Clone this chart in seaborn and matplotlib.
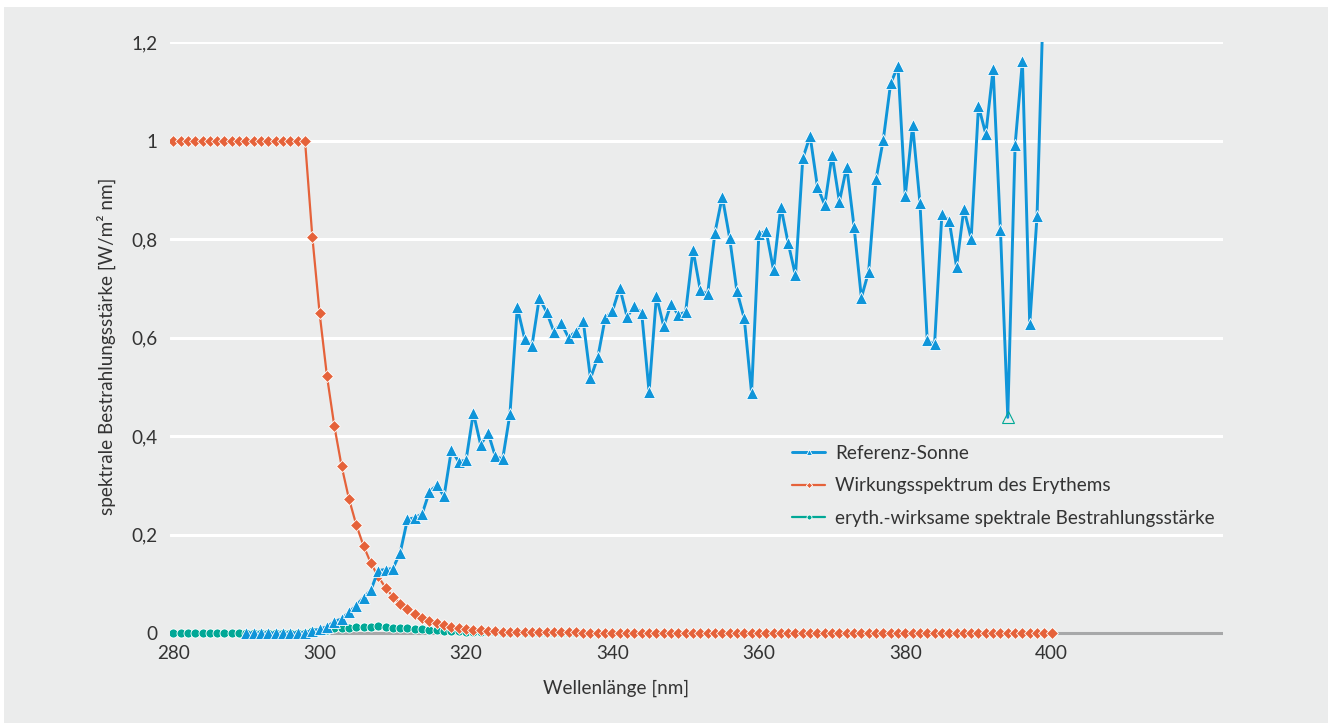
import matplotlib
matplotlib.use("Agg")
import matplotlib.pyplot as plt
from matplotlib.patches import Rectangle
import seaborn as sns
import pandas as pd

# ---------------- data ----------------
wl_sun = list(range(290, 401))
sun = [
    0, 0, 0, 0, 0, 0, 0, 0.0005, 0.001, 0.005,                      # 290-299
    0.008, 0.013, 0.023, 0.029, 0.042, 0.056, 0.072, 0.087, 0.127, 0.129,   # 300-309
    0.131, 0.163, 0.231, 0.234, 0.242, 0.287, 0.300, 0.278, 0.372, 0.348,   # 310-319
    0.351, 0.447, 0.382, 0.407, 0.359, 0.353, 0.445, 0.661, 0.598, 0.583,   # 320-329
    0.680, 0.652, 0.612, 0.629, 0.600, 0.612, 0.634, 0.517, 0.560, 0.639,   # 330-339
    0.654, 0.701, 0.642, 0.664, 0.649, 0.490, 0.684, 0.623, 0.668, 0.646,   # 340-349
    0.652, 0.778, 0.696, 0.688, 0.813, 0.886, 0.803, 0.694, 0.639, 0.488,   # 350-359
    0.810, 0.816, 0.737, 0.866, 0.792, 0.726, 0.964, 1.009, 0.906, 0.869,   # 360-369
    0.971, 0.876, 0.947, 0.825, 0.681, 0.734, 0.921, 1.002, 1.116, 1.151,   # 370-379
    0.888, 1.031, 0.874, 0.594, 0.586, 0.851, 0.837, 0.744, 0.861, 0.801,   # 380-389
    1.070, 1.013, 1.145, 0.818, 0.438, 0.991, 1.161, 0.627, 0.847, 1.36,    # 390-399
    1.55,                                                                   # 400
]

wl_full = list(range(280, 401))
erythem = [
    1, 1, 1, 1, 1, 1, 1, 1, 1, 1,                                           # 280-289
    1, 1, 1, 1, 1, 1, 1, 1, 1, 0.805,                                       # 290-299
    0.649, 0.522, 0.421, 0.339, 0.273, 0.220, 0.177, 0.142, 0.115, 0.092,   # 300-309
    0.074, 0.060, 0.048, 0.039, 0.031, 0.025, 0.020, 0.016, 0.013, 0.0105,  # 310-319
    0.0085, 0.0068, 0.0055, 0.0045, 0.0036, 0.0029, 0.0023, 0.0019, 0.0015, 0.0015,  # 320-329
    0.0014, 0.0014, 0.0013, 0.0013, 0.0012, 0.0012, 0.0011, 0.0011, 0.0011, 0.0010,  # 330-339
    0.0010, 0.0010, 0.0009, 0.0009, 0.0009, 0.0008, 0.0008, 0.0008, 0.0008, 0.0007,  # 340-349
    0.0007, 0.0007, 0.0007, 0.0006, 0.0006, 0.0006, 0.0006, 0.0006, 0.0005, 0.0005,  # 350-359
    0.0005, 0.0005, 0.0005, 0.0005, 0.0004, 0.0004, 0.0004, 0.0004, 0.0004, 0.0004,  # 360-369
    0.0003, 0.0003, 0.0003, 0.0003, 0.0003, 0.0003, 0.0003, 0.0003, 0.0003, 0.0003,  # 370-379
    0.0003, 0.0003, 0.0003, 0.0003, 0.0003, 0.0002, 0.0002, 0.0002, 0.0002, 0.0002,  # 380-389
    0.0002, 0.0002, 0.0002, 0.0002, 0.0002, 0.0002, 0.0002, 0.0001, 0.0001, 0.0001,  # 390-399
    0.0001,                                                                           # 400
]
wirksam = [
    0, 0, 0, 0, 0, 0, 0, 0, 0, 0,                                           # 280-289
    0, 0, 0, 0, 0, 0, 0, 0.0005, 0.001, 0.004,                              # 290-299
    0.005, 0.007, 0.010, 0.010, 0.011, 0.012, 0.013, 0.012, 0.015, 0.012,   # 300-309
    0.0097, 0.0097, 0.011, 0.009, 0.0075, 0.0072, 0.006, 0.0045, 0.0048, 0.0037,  # 310-319
    0.003, 0.003, 0.0021, 0.0018, 0.0013, 0.001, 0.001, 0.0013, 0.0009, 0.0009,   # 320-329
    0.0009, 0.0009, 0.0008, 0.0008, 0.0007, 0.0007, 0.0007, 0.0006, 0.0006, 0.0006,  # 330-339
    0.0007, 0.0007, 0.0006, 0.0006, 0.0006, 0.0004, 0.0005, 0.0005, 0.0005, 0.0005,  # 340-349
    0.0005, 0.0005, 0.0005, 0.0004, 0.0005, 0.0005, 0.0005, 0.0004, 0.0003, 0.0003,  # 350-359
    0.0004, 0.0004, 0.0004, 0.0004, 0.0003, 0.0003, 0.0004, 0.0004, 0.0004, 0.0003,  # 360-369
    0.0003, 0.0003, 0.0003, 0.0003, 0.0002, 0.0002, 0.0003, 0.0003, 0.0003, 0.0003,  # 370-379
    0.0003, 0.0003, 0.0003, 0.0002, 0.0002, 0.0002, 0.0002, 0.0002, 0.0002, 0.0002,  # 380-389
    0.0002, 0.0002, 0.0002, 0.0002, 0.0001, 0.0002, 0.0002, 0.0001, 0.0001, 0.0001,  # 390-399
    0.0001,                                                                           # 400
]

labels = ["Referenz-Sonne", "Wirkungsspektrum des Erythems",
          "eryth.-wirksame spektrale Bestrahlungsstärke"]
xticks = [280, 300, 320, 340, 360, 380, 400]
yticks = [0, 0.2, 0.4, 0.6, 0.8, 1.0, 1.2]
ytick_labels = ["0", "0,2", "0,4", "0,6", "0,8", "1", "1,2"]
hollow_wl = 394

# ---------------- style ----------------
BG = "#ebecec"
BLUE = "#0f95d9"
ORANGE = "#e5623a"
TEAL = "#00a896"
TXT = "#333333"
FS = 13.6

sns.set_theme(style="white")
plt.rcParams["font.family"] = ["Lato", "DejaVu Sans"]
plt.rcParams["font.size"] = FS

W, H = 1333, 723
fig = plt.figure(figsize=(W / 100, H / 100), dpi=100, facecolor="white")
fig.patches.append(Rectangle((4 / W, 0), 1324 / W, (H - 7) / H,
                             transform=fig.transFigure, facecolor=BG,
                             edgecolor="none", zorder=-10))
ax = fig.add_axes([170 / W, 1 - 639 / H, 1053 / W, 597 / H])
ax.set_facecolor(BG)

df_sun = pd.DataFrame({"wl": wl_sun, "val": sun})
df_ery = pd.DataFrame({"wl": wl_full, "val": erythem})
df_wir = pd.DataFrame({"wl": wl_full, "val": wirksam})

hollow_idx = wl_sun.index(hollow_wl)
sun_marks = [i for i in range(len(wl_sun)) if i != hollow_idx]

sns.lineplot(data=df_wir, x="wl", y="val", ax=ax, color=TEAL, lw=1.6,
             marker="o", markersize=6.5, markeredgecolor="white",
             markeredgewidth=0.6, label=labels[2], zorder=3)
sns.lineplot(data=df_ery, x="wl", y="val", ax=ax, color=ORANGE, lw=1.6,
             marker="D", markersize=5.8, markeredgecolor="white",
             markeredgewidth=0.6, label=labels[1], zorder=4)
sns.lineplot(data=df_sun, x="wl", y="val", ax=ax, color=BLUE, lw=2.1,
             marker="^", markersize=8.7, markeredgecolor="white",
             markeredgewidth=0.6, markevery=sun_marks, label=labels[0], zorder=5)
ax.plot([wl_sun[hollow_idx]], [sun[hollow_idx]], ls="none", marker="^",
        markersize=8.7, mfc="none", mec=TEAL, mew=0.8, zorder=6)

ax.axhline(0, color="#a7a8a9", lw=2.2, zorder=2)

ax.set_xlim(279.56, 423.4)
ax.set_ylim(-0.012, 1.2)
ax.set_xticks(xticks)
ax.set_yticks(yticks)
ax.set_yticklabels(ytick_labels)
ax.grid(axis="y", color="white", lw=2.2, zorder=0)
ax.grid(axis="x", visible=False)
ax.set_axisbelow(True)
for s in ax.spines.values():
    s.set_visible(False)
ax.tick_params(axis="both", length=0, labelsize=FS, colors=TXT)
ax.tick_params(axis="x", pad=4)
ax.tick_params(axis="y", pad=9)

ax.set_xlabel("Wellenlänge [nm]", fontsize=FS, color=TXT)
ax.set_ylabel("spektrale Bestrahlungsstärke [W/m² nm]", fontsize=FS, color=TXT)
ax.xaxis.set_label_coords((616 - 170) / 1053, -0.068)
ax.yaxis.set_label_coords((116 - 170) / 1053, (639 - 346) / 597)

handles, labs = ax.get_legend_handles_labels()
order = [labs.index(l) for l in labels]
leg = ax.legend([handles[i] for i in order], [labs[i] for i in order],
                loc="upper left", bbox_to_anchor=(792 / W, 1 - 445 / H),
                bbox_transform=fig.transFigure, frameon=False, borderpad=0,
                borderaxespad=0, handlelength=1.75, handletextpad=0.55,
                labelspacing=0.82, markerscale=0.55, fontsize=FS)
for t in leg.get_texts():
    t.set_color(TXT)

fig.savefig("out.png", dpi=100, facecolor="white")
